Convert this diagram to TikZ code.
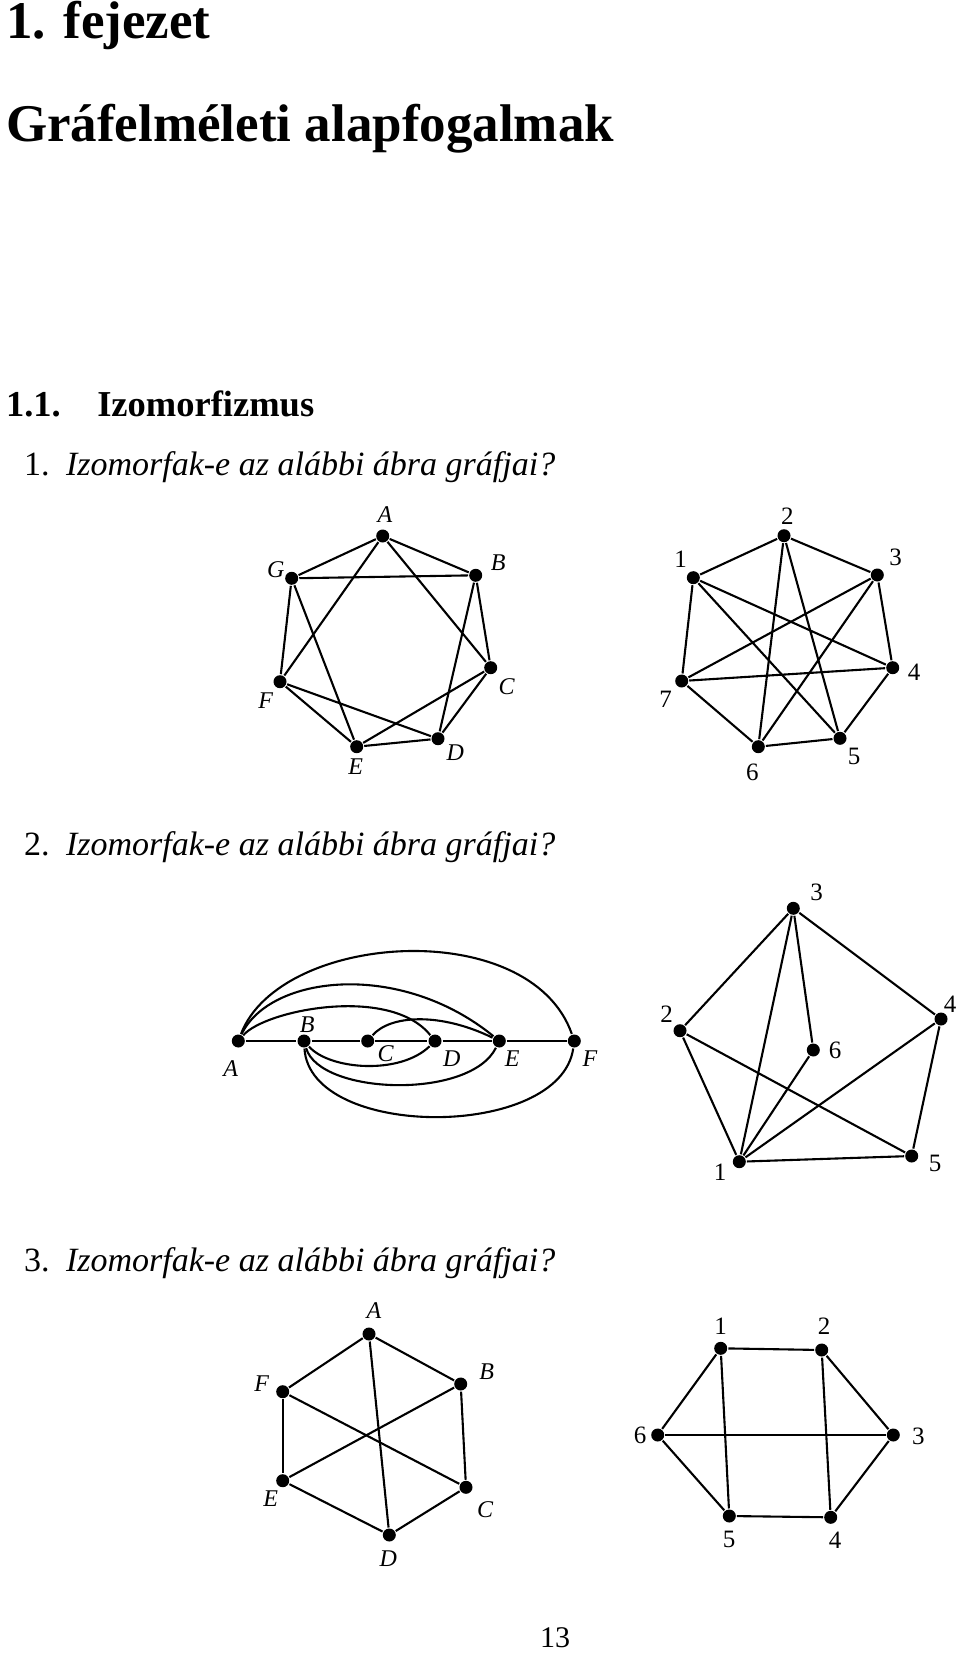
\documentclass[tikz,border=0pt]{standalone}
\usepackage{fontspec}
\setmainfont{Liberation Serif}
\usepackage{tikz}

\begin{document}
\begin{tikzpicture}[x=1pt, y=-1pt, line width=2.1pt,
  vertex/.style={circle, fill=black, inner sep=0pt, minimum size=13pt},
  lbl/.style={inner sep=0pt, font=\fontsize{24}{24}\selectfont\itshape},
  num/.style={inner sep=0pt, font=\fontsize{25}{25}\selectfont},
  question/.style={anchor=base west, inner sep=0pt, font=\fontsize{34}{40}\selectfont}]
\useasboundingbox (0,0) rectangle (960,1653);

% headings
\node (chap) [anchor=base west, inner sep=0pt, font=\fontsize{53}{60}\selectfont\bfseries] at (5,39) {1. fejezet};
\node (title) [anchor=base west, inner sep=0pt, font=\fontsize{53}{60}\selectfont\bfseries] at (5,142) {Gráfelméleti alapfogalmak};
\node (sect) [anchor=base west, inner sep=0pt, font=\fontsize{36.5}{40}\selectfont\bfseries] at (5,416) {1.1.\hspace{1em}Izomorfizmus};

\node (ask1) [question] at (23,475) {\makebox[42pt][l]{1.}\textit{Izomorfak-e az alábbi ábra gráfjai?}};
\node (ask2) [question] at (23,855) {\makebox[42pt][l]{2.}\textit{Izomorfak-e az alábbi ábra gráfjai?}};
\node (ask3) [question] at (23,1271) {\makebox[42pt][l]{3.}\textit{Izomorfak-e az alábbi ábra gráfjai?}};

% 1. feladat, bal
\node (gA) [vertex] at (382.7,536) {};
\node (gB) [vertex] at (475.7,575.3) {};
\node (gC) [vertex] at (490.7,667.7) {};
\node (gD) [vertex] at (438,738.7) {};
\node (gE) [vertex] at (356.7,746.7) {};
\node (gF) [vertex] at (280,681.7) {};
\node (gG) [vertex] at (291.7,578.3) {};
\node (lgA) [lbl] at (385,514.3) {A};
\node (lgB) [lbl] at (498.3,562.7) {B};
\node (lgC) [lbl] at (506.7,686.7) {C};
\node (lgD) [lbl] at (455.3,752.3) {D};
\node (lgE) [lbl] at (355.7,766.7) {E};
\node (lgF) [lbl] at (265.7,701) {F};
\node (lgG) [lbl] at (275.7,570) {G};

\draw (gA) -- (gG);
\draw (gA) -- (gB);
\draw (gA) -- (gF);
\draw (gA) -- (gC);
\draw (gG) -- (gB);
\draw (gG) -- (gF);
\draw (gG) -- (gE);
\draw (gB) -- (gC);
\draw (gB) -- (gD);
\draw (gC) -- (gE);
\draw (gC) -- (gD);
\draw (gF) -- (gE);
\draw (gF) -- (gD);
\draw (gE) -- (gD);

% 1. feladat, jobb
\node (h1) [vertex] at (693.3,577.7) {};
\node (h2) [vertex] at (784,535.7) {};
\node (h3) [vertex] at (877.3,575) {};
\node (h4) [vertex] at (892.7,667.7) {};
\node (h5) [vertex] at (840,738.3) {};
\node (h6) [vertex] at (758.3,746.7) {};
\node (h7) [vertex] at (681.7,681) {};
\node (lh1) [num] at (680.7,559.3) {1};
\node (lh2) [num] at (787.3,516) {2};
\node (lh3) [num] at (895.7,557.3) {3};
\node (lh4) [num] at (914,672.7) {4};
\node (lh5) [num] at (854,756) {5};
\node (lh6) [num] at (752.3,772.7) {6};
\node (lh7) [num] at (665.7,699.3) {7};

\draw (h1) -- (h2);
\draw (h2) -- (h3);
\draw (h3) -- (h4);
\draw (h4) -- (h5);
\draw (h5) -- (h6);
\draw (h6) -- (h7);
\draw (h7) -- (h1);
\draw (h1) -- (h4);
\draw (h1) -- (h5);
\draw (h2) -- (h6);
\draw (h2) -- (h5);
\draw (h3) -- (h7);
\draw (h3) -- (h6);
\draw (h7) -- (h4);

% 2. feladat, bal
\node (kA) [vertex] at (238.3,1041) {};
\node (kB) [vertex] at (304,1041) {};
\node (kC) [vertex] at (367.7,1041) {};
\node (kD) [vertex] at (435,1041) {};
\node (kE) [vertex] at (499.3,1041) {};
\node (kF) [vertex] at (574.3,1041) {};
\node (lkA) [lbl] at (230.7,1068.3) {A};
\node (lkB) [lbl] at (307.3,1024.7) {B};
\node (lkC) [lbl] at (385.7,1053.3) {C};
\node (lkD) [lbl] at (451.7,1058.3) {D};
\node (lkE) [lbl] at (512.3,1058.3) {E};
\node (lkF) [lbl] at (590,1058.3) {F};

\draw (kA) -- (kB);
\draw (kB) -- (kC);
\draw (kC) -- (kD);
\draw (kD) -- (kE);
\draw (kE) -- (kF);
\draw (kA) .. controls (280,932) and (530,915) .. (kF);
\draw (kA) .. controls (270,975) and (400,960) .. (kE);
\draw (kA) .. controls (265,1010) and (390,985) .. (kD);
\draw (kC) .. controls (390,1015) and (440,1012) .. (kE);
\draw (kB) .. controls (330,1070) and (400,1075) .. (kD);
\draw (kB) .. controls (320,1095) and (470,1100) .. (kE);
\draw (kB) .. controls (310,1140) and (560,1140) .. (kF);

% 2. feladat, jobb
\node (m1) [vertex] at (739.3,1161.7) {};
\node (m2) [vertex] at (680,1030.7) {};
\node (m3) [vertex] at (793.3,908.3) {};
\node (m4) [vertex] at (941,1019) {};
\node (m5) [vertex] at (911.7,1156) {};
\node (m6) [vertex] at (813.3,1050) {};
\node (lm1) [num] at (720,1172.3) {1};
\node (lm2) [num] at (666.7,1014) {2};
\node (lm3) [num] at (816.7,892.3) {3};
\node (lm4) [num] at (950,1004) {4};
\node (lm5) [num] at (935,1163.3) {5};
\node (lm6) [num] at (835,1050.7) {6};

\draw (m3) -- (m2);
\draw (m3) -- (m1);
\draw (m3) -- (m6);
\draw (m3) -- (m4);
\draw (m2) -- (m1);
\draw (m2) -- (m5);
\draw (m6) -- (m1);
\draw (m4) -- (m1);
\draw (m4) -- (m5);
\draw (m1) -- (m5);

% 3. feladat, bal
\node (pA) [vertex] at (369,1334) {};
\node (pB) [vertex] at (460.7,1384) {};
\node (pC) [vertex] at (466,1487.3) {};
\node (pD) [vertex] at (389.3,1535) {};
\node (pE) [vertex] at (282.7,1480.7) {};
\node (pF) [vertex] at (282.7,1391.7) {};
\node (lpA) [lbl] at (374,1310.7) {A};
\node (lpB) [lbl] at (486.7,1371.7) {B};
\node (lpC) [lbl] at (485,1510) {C};
\node (lpD) [lbl] at (388.3,1558.3) {D};
\node (lpE) [lbl] at (270.7,1499) {E};
\node (lpF) [lbl] at (261.7,1383.3) {F};

\draw (pA) -- (pF);
\draw (pA) -- (pB);
\draw (pA) -- (pD);
\draw (pB) -- (pC);
\draw (pB) -- (pE);
\draw (pF) -- (pE);
\draw (pF) -- (pC);
\draw (pE) -- (pD);
\draw (pC) -- (pD);

% 3. feladat, jobb
\node (q1) [vertex] at (720.7,1348.3) {};
\node (q2) [vertex] at (821.7,1350) {};
\node (q3) [vertex] at (893.3,1435) {};
\node (q4) [vertex] at (830.7,1517.3) {};
\node (q5) [vertex] at (729.3,1516) {};
\node (q6) [vertex] at (657.7,1435) {};
\node (lq1) [num] at (720.7,1326) {1};
\node (lq2) [num] at (824,1326) {2};
\node (lq3) [num] at (918.3,1436.7) {3};
\node (lq4) [num] at (835,1540) {4};
\node (lq5) [num] at (729,1539) {5};
\node (lq6) [num] at (640,1435) {6};

\draw (q1) -- (q2);
\draw (q2) -- (q3);
\draw (q3) -- (q4);
\draw (q4) -- (q5);
\draw (q5) -- (q6);
\draw (q6) -- (q1);
\draw (q1) -- (q5);
\draw (q2) -- (q4);
\draw (q6) -- (q3);

% oldalszam
\node (page) [anchor=base, inner sep=0pt, font=\fontsize{30}{30}\selectfont] at (555,1647) {13};

\end{tikzpicture}
\end{document}
